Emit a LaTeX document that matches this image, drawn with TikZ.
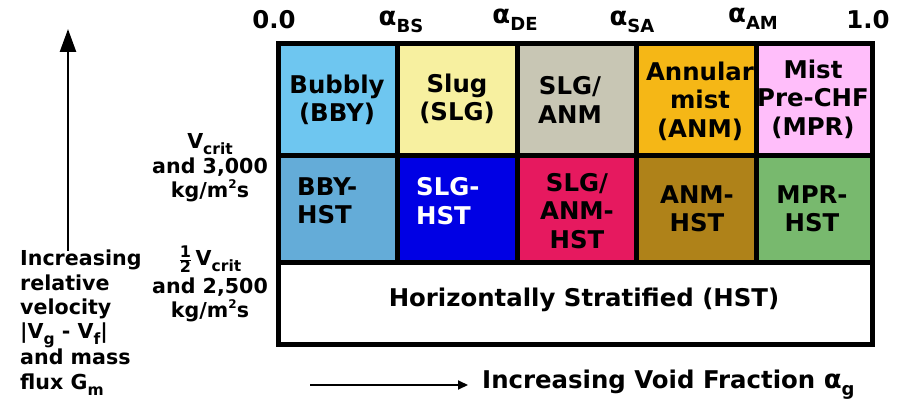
\documentclass[tikz,border=0pt]{standalone}
\usepackage{fontspec}
\setmainfont{DejaVu Sans}
\usetikzlibrary{arrows.meta}
\definecolor{cBBY}{RGB}{110,198,240}
\definecolor{cSLG}{RGB}{247,240,160}
\definecolor{cSA}{RGB}{200,198,180}
\definecolor{cANM}{RGB}{245,183,22}
\definecolor{cMPR}{RGB}{255,190,250}
\definecolor{hBBY}{RGB}{100,172,216}
\definecolor{hSLG}{RGB}{0,0,228}
\definecolor{hSA}{RGB}{230,25,95}
\definecolor{hANM}{RGB}{175,130,25}
\definecolor{hMPR}{RGB}{120,185,110}
\newcommand{\sbs}[1]{\raisebox{-0.3em}{\fontsize{15.5}{15.5}\selectfont #1}}
\newcommand{\sbl}[1]{\raisebox{-0.3em}{\fontsize{18}{18}\selectfont #1}}
\newcommand{\sps}[1]{\raisebox{0.45em}{\fontsize{12}{12}\selectfont #1}}
\newcommand{\alf}{{\fontsize{26}{26}\selectfont α}}
\begin{document}
\begin{tikzpicture}[x=1pt,y=-1pt,
  every node/.style={font=\fontsize{24.4}{28.5}\selectfont\bfseries, inner sep=0pt},
  small/.style={font=\fontsize{20.6}{24.5}\selectfont\bfseries},
  cell/.style={draw=black, line width=5pt, fill=#1, inner sep=0pt},
  txt/.style={align=center},
  ltxt/.style={align=left}]
\useasboundingbox (0,0) rectangle (901,401);
% row 1
\node[cell=cBBY, minimum width=119pt, minimum height=111pt] (c11) at (337.5,99.5) {};
\node[cell=cSLG, minimum width=120pt, minimum height=111pt] (c12) at (457,99.5) {};
\node[cell=cSA,  minimum width=119pt, minimum height=111pt] (c13) at (576.5,99.5) {};
\node[cell=cANM, minimum width=120pt, minimum height=111pt] (c14) at (696,99.5) {};
\node[cell=cMPR, minimum width=116pt, minimum height=111pt] (c15) at (814,99.5) {};
% row 2
\node[cell=hBBY, minimum width=119pt, minimum height=107pt] (c21) at (337.5,208.5) {};
\node[cell=hSLG, minimum width=120pt, minimum height=107pt] (c22) at (457,208.5) {};
\node[cell=hSA,  minimum width=119pt, minimum height=107pt] (c23) at (576.5,208.5) {};
\node[cell=hANM, minimum width=120pt, minimum height=107pt] (c24) at (696,208.5) {};
\node[cell=hMPR, minimum width=116pt, minimum height=107pt] (c25) at (814,208.5) {};
% row 3
\node[cell=white, minimum width=594pt, minimum height=82pt] (c3) at (575,303) {};
% cell texts
\node[txt] (t11) at (337,100) {Bubbly\\(BBY)};
\node[txt] (t12) at (457,99) {Slug\\(SLG)};
\node[txt] (t13) at (570,100) {SLG/\\ANM};
\node[txt] (t14) at (700,101) {Annular\\mist\\(ANM)};
\node[txt] (t15) at (813,99) {Mist\\Pre-CHF\\(MPR)};
\node[ltxt, anchor=west] (t21) at (297,201) {BBY-\\HST};
\node[ltxt, anchor=west, text=white] (t22) at (416,201) {SLG-\\HST};
\node[txt] (t23) at (577,211) {SLG/\\ANM-\\HST};
\node[txt] (t24) at (697,209) {ANM-\\HST};
\node[txt] (t25) at (812,209) {MPR-\\HST};
\node[txt] (t3) at (584,300) {Horizontally Stratified (HST)};
% top axis labels
\node (a0) at (274,20) {0.0};
\node (a1) at (401,22) {\alf\sbl{BS}};
\node (a2) at (515,20) {\alf\sbl{DE}};
\node (a3) at (632,22) {\alf\sbl{SA}};
\node (a4) at (753,19) {\alf\sbl{AM}};
\node (a5) at (868,20) {1.0};
% left labels
\node[txt, small] (v1) at (210,168) {V\sbs{crit}\\and 3,000\\kg/m\sps{2}s};
\node[txt, small] (v2) at (210,284) {$\frac{\hbox{\fontsize{16}{16}\selectfont\bfseries 1}}{\hbox{\fontsize{16}{16}\selectfont\bfseries 2}}$\,V\sbs{crit}\\[3pt]and 2,500\\kg/m\sps{2}s};
\node[ltxt, small, anchor=north west, font=\fontsize{20.6}{24.3}\selectfont\bfseries] (vel) at (20,250) {Increasing\\relative\\velocity\\|V\sbs{g} - V\sbs{f}|\\and mass\\flux G\sbs{m}};
\coordinate (vbot) at (68,251);
\coordinate (vtop) at (68,29);
\draw[line width=2.5pt, -{Triangle[length=23pt,width=16pt]}] (vbot) -- (vtop);
% bottom axis
\node[anchor=west] (vf) at (482,385) {Increasing Void Fraction \alf\sbl{g}};
\coordinate (hstart) at (310,385);
\draw[line width=2pt, -{Triangle[length=10pt,width=9pt]}] (hstart) -- (vf.west -| 468,0);
\end{tikzpicture}
\end{document}
